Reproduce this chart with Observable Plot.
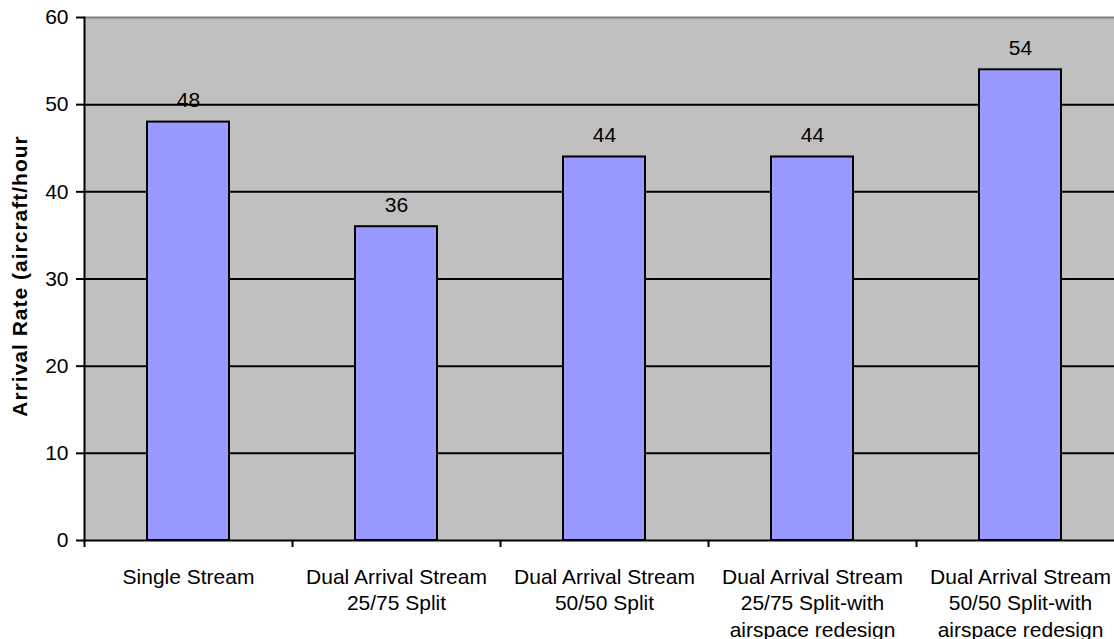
<!DOCTYPE html>
<html>
<head>
<meta charset="utf-8">
<script src="https://cdn.jsdelivr.net/npm/d3@7"></script>
<script src="https://cdn.jsdelivr.net/npm/@observablehq/plot@0.6"></script>
<style>
  html, body { margin: 0; padding: 0; background: white; overflow: hidden; }
  #chart svg { display: block; }
  .y-title text { letter-spacing: 1px; }
</style>
</head>
<body>
<div id="chart"></div>
<script>
// Arrival scenarios (two-line labels) and their arrival rates
const categories = [
  "Single Stream",
  "Dual Arrival Stream\n25/75 Split",
  "Dual Arrival Stream\n50/50 Split",
  "Dual Arrival Stream\n25/75 Split-with\nairspace redesign",
  "Dual Arrival Stream\n50/50 Split-with\nairspace redesign"
];
const arrivalRates = [48, 36, 44, 44, 54];
const yTicks = [0, 10, 20, 30, 40, 50, 60];
const yTitle = "Arrival Rate (aircraft/hour";

const rows = categories.map((c, i) => ({scenario: c, rate: arrivalRates[i]}));

const chart = Plot.plot({
  width: 1114,
  height: 639,
  marginLeft: 84,
  marginRight: 0,
  marginTop: 17,
  marginBottom: 99,
  style: {
    fontFamily: "'Liberation Sans', Arial, sans-serif",
    fontSize: "21px",
    color: "black",
    background: "white"
  },
  x: {domain: categories, range: [84, 1124], padding: 0},
  y: {domain: [0, 60], ticks: yTicks},
  marks: [
    Plot.frame({fill: "#c0c0c0"}),
    Plot.ruleY(yTicks.filter(t => t > 0 && t < 60), {stroke: "black", strokeWidth: 2}),
    Plot.ruleY([60], {stroke: "#808080", strokeWidth: 2}),
    Plot.barY(rows, {
      x: "scenario", y: "rate",
      fill: "#9999ff", stroke: "black", strokeWidth: 2,
      insetLeft: 63, insetRight: 63
    }),
    Plot.text(rows, {
      x: "scenario", y: "rate", text: d => String(d.rate),
      lineAnchor: "bottom", dy: -15, fontSize: 21, fill: "black"
    }),
    Plot.frame({anchor: "left", stroke: "black", strokeWidth: 2}),
    Plot.ruleY([0], {stroke: "black", strokeWidth: 2}),
    // category boundary ticks below the baseline
    Plot.ruleX(categories, {x: d => d, y1: 0, y2: 0, insetBottom: -7, dx: -104, stroke: "black", strokeWidth: 2}),
    Plot.axisY({ticks: yTicks, tickSize: 8, tickPadding: 8, strokeWidth: 2, fontSize: 21, label: null}),
    Plot.axisX({tickSize: 0, tickPadding: 25, fontSize: 21, lineHeight: 1.25, label: null}),
    Plot.text([yTitle], {
      frameAnchor: "left", textAnchor: "middle", dx: -64, dy: -3, rotate: -90,
      fontWeight: "bold", fontSize: 21, fill: "black", className: "y-title"
    })
  ]
});

document.getElementById("chart").appendChild(chart);
</script>
</body>
</html>
